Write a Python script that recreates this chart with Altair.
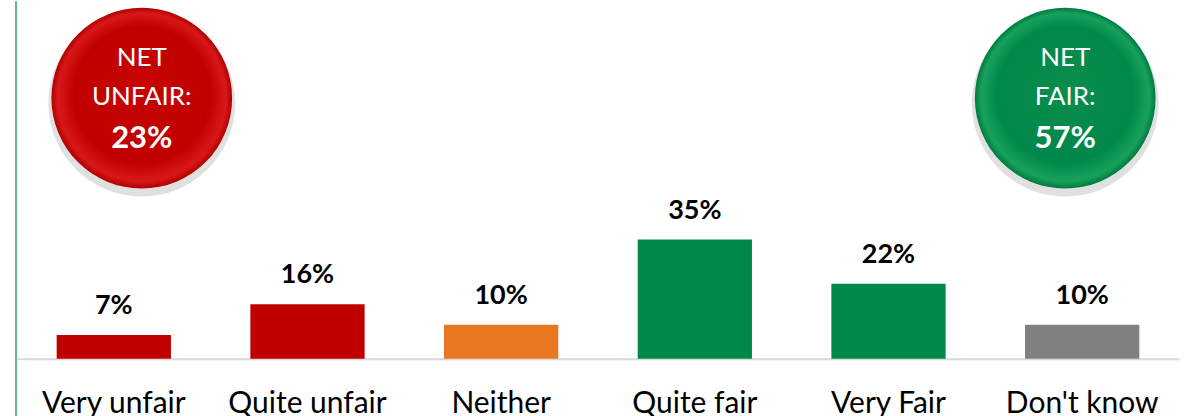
import altair as alt
import pandas as pd

categories = ["Very unfair", "Quite unfair", "Neither", "Quite fair", "Very Fair", "Don't know"]
values = [7, 16, 10, 35, 22, 10]
colors = ["#C00000", "#C00000", "#E87722", "#00884A", "#00884A", "#808080"]
labels = ["7%", "16%", "10%", "35%", "22%", "10%"]

net_lines_unfair = ["NET", "UNFAIR:", "23%"]
net_lines_fair = ["NET", "FAIR:", "57%"]

df = pd.DataFrame({"cat": categories, "val": values, "color": colors, "label": labels})

FONT = "Lato"

x_enc = alt.X("cat:N", sort=categories, title=None,
              scale=alt.Scale(paddingInner=0.41, paddingOuter=0.205),
              axis=alt.Axis(labelAngle=0, labelFontSize=30, labelFont=FONT, labelColor="#000000",
                            labelPadding=54, labelBaseline="alphabetic", ticks=False,
                            domainColor="#D9D9D9", domainWidth=2, grid=False))
y_enc = alt.Y("val:Q", title=None, scale=alt.Scale(domain=[0, 105], nice=False), axis=None)

bars = alt.Chart(df).mark_bar().encode(
    x=x_enc, y=y_enc, color=alt.Color("color:N", scale=None)
)

text = alt.Chart(df).mark_text(dy=-21, baseline="alphabetic", fontSize=27, fontWeight="bold",
                               font=FONT, color="#000000").encode(
    x=alt.X("cat:N", sort=categories), y="val:Q", text="label:N"
)

red_grad = alt.Gradient(gradient="radial", x1=0.5, y1=0.42, r1=0.0, x2=0.5, y2=0.5, r2=0.5,
                        stops=[alt.GradientStop(color="#C80404", offset=0),
                               alt.GradientStop(color="#C00000", offset=0.75),
                               alt.GradientStop(color="#D81818", offset=0.93),
                               alt.GradientStop(color="#B00000", offset=1)])
green_grad = alt.Gradient(gradient="radial", x1=0.5, y1=0.42, r1=0.0, x2=0.5, y2=0.5, r2=0.5,
                          stops=[alt.GradientStop(color="#0A8D4C", offset=0),
                                 alt.GradientStop(color="#00884A", offset=0.75),
                                 alt.GradientStop(color="#18A05C", offset=0.93),
                                 alt.GradientStop(color="#007A40", offset=1)])

dummy = pd.DataFrame({"a": [0]})
DIAM = 181
SIZE = DIAM * DIAM

RX, GX, CY = 125, 1050, 97


def circle(cx, cy, grad):
    shadow = alt.Chart(dummy).mark_point(shape="circle", filled=True, fill="#000000", opacity=0.12,
                                         size=(DIAM + 6) ** 2, strokeWidth=0).encode(
        x=alt.value(cx), y=alt.value(cy + 5))
    body = alt.Chart(dummy).mark_point(shape="circle", filled=True, fill=grad, opacity=1,
                                       size=SIZE, strokeWidth=0).encode(
        x=alt.value(cx), y=alt.value(cy))
    return [shadow, body]


def circle_text(lines, cx):
    baselines = [65, 104, 147]
    layers = []
    for i, t in enumerate(lines):
        bold = i == 2
        layers.append(
            alt.Chart(dummy).mark_text(text=t, fontSize=31 if bold else 26,
                                       fontWeight="bold" if bold else "normal",
                                       font=FONT, color="#FFFFFF", baseline="alphabetic").encode(
                x=alt.value(cx), y=alt.value(baselines[i]))
        )
    return layers


vline = alt.Chart(dummy).mark_rule(color="#5DB887", strokeWidth=2).encode(
    x=alt.value(-1), y=alt.value(0), y2=alt.value(420))

chart = alt.layer(
    bars, text, vline,
    *circle(RX, CY, red_grad), *circle(GX, CY, green_grad),
    *circle_text(net_lines_unfair, RX),
    *circle_text(net_lines_fair, GX),
).properties(
    width=1164, height=358, background="#FFFFFF",
    padding={"left": 15, "top": 0, "right": 10, "bottom": 0},
).configure_view(stroke=None)

chart.save("out.html", embed_options={"renderer": "svg", "actions": False})
